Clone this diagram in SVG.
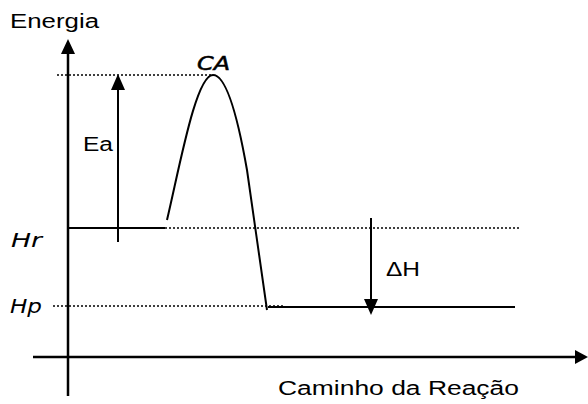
<svg xmlns="http://www.w3.org/2000/svg" width="588" height="404" viewBox="0 0 588 404">
<style>
.ax{stroke:#000;stroke-width:2.5;fill:none}
.ln{stroke:#000;stroke-width:2;fill:none}
.dot{stroke:#000;stroke-width:1.5;stroke-dasharray:2 2;fill:none}
.t{font-family:"Liberation Sans",Arial,sans-serif;font-size:20px;fill:#000}
.c{font-family:"DejaVu Sans","Liberation Sans",sans-serif;font-style:italic;font-size:19px;fill:#000}
.ah{fill:#000}
</style>
<rect width="588" height="404" fill="#fff"/>
<g id="connectors">
<line class="ax" x1="68" y1="396" x2="68" y2="52"/>
<polygon class="ah" points="68,39 61,54 75,54"/>
<line class="ax" x1="33" y1="357" x2="578" y2="357"/>
<polygon class="ah" points="588,357 575,350 575,364"/>
<line class="dot" x1="57" y1="75" x2="212" y2="75"/>
<line class="ln" x1="118" y1="242" x2="118" y2="88"/>
<polygon class="ah" points="118,74 111,90 125,90"/>
<line class="ln" x1="68" y1="228" x2="165" y2="228"/>
<line class="dot" x1="165" y1="228" x2="520" y2="228"/>
<line class="dot" x1="53" y1="306" x2="285" y2="306"/>
<line class="ln" x1="268" y1="307" x2="515" y2="307"/>
<path class="ln" d="M167,220 C180,165 196,75 213,75 C228,75 240,130 247,170 L267,310"/>
<line class="ln" x1="371" y1="218" x2="371" y2="302"/>
<polygon class="ah" points="371,315 364,299 378,299"/>
</g>
<g id="labels">
<text class="t" x="10" y="27.5" textLength="89" lengthAdjust="spacingAndGlyphs">Energia</text>
<text class="t" x="83" y="151" textLength="30" lengthAdjust="spacingAndGlyphs">Ea</text>
<text class="t" x="386" y="276" textLength="34" lengthAdjust="spacingAndGlyphs">ΔH</text>
<text class="t" x="278" y="395" textLength="241" lengthAdjust="spacingAndGlyphs">Caminho da Reação</text>
<text class="c" x="11" y="247" textLength="31" lengthAdjust="spacingAndGlyphs">Hr</text>
<text class="c" x="10" y="313" textLength="32" lengthAdjust="spacingAndGlyphs">Hp</text>
<text class="c" x="197" y="70" textLength="33" lengthAdjust="spacingAndGlyphs" font-size="21" stroke="#000" stroke-width="0.5">CA</text>
</g>
</svg>
